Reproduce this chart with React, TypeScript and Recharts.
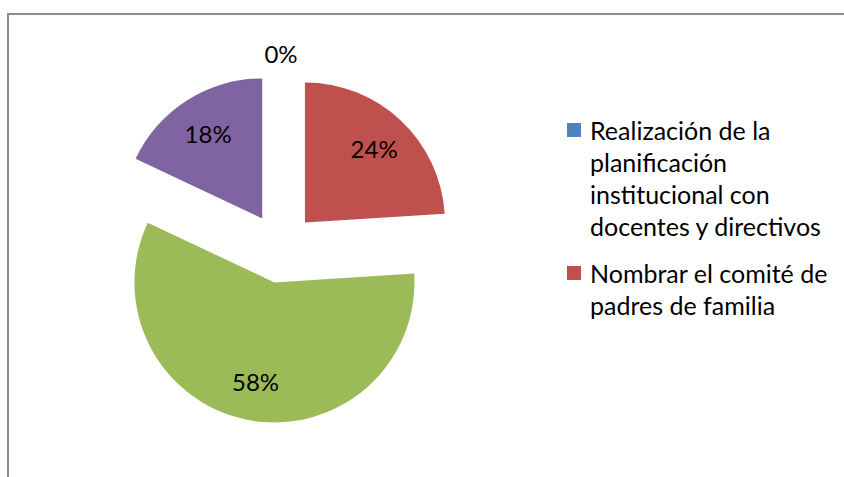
import { PieChart, Pie, Cell, Legend } from "recharts";

// categorías y porcentajes
const categories = [
  "Realización de la planificación institucional con docentes y directivos",
  "Nombrar el comité de padres de familia",
  "Actividad 3",
  "Actividad 4",
];
const values = [0, 24, 58, 18];
const COLORS = ["#4F81BD", "#C0504D", "#9BBB59", "#8064A2"];
const LEGEND_VISIBLE = 2; // el resto queda cortado, como en el original

const data = categories.map((name, i) => ({ name, value: values[i] }));

const FONT = "Lato, 'Open Sans', sans-serif";
const R = 140;
const EXPLODE = 35;
const RAD = Math.PI / 180;

// desplazamiento radial de cada porción (pastel separado)
const total = values.reduce((a, b) => a + b, 0);
let acc = 0;
const offsets = values.map((v) => {
  const mid = ((acc + v / 2) / total) * 360; // grados desde las 12, sentido horario
  acc += v;
  return { dx: EXPLODE * Math.sin(mid * RAD), dy: -EXPLODE * Math.cos(mid * RAD) };
});

const renderLabel = (props: any) => {
  const { cx, cy, midAngle, value } = props;
  const dist = value === 0 ? EXPLODE + R + 20 : EXPLODE + 101;
  const x = cx + dist * Math.cos(-midAngle * RAD);
  const y = cy + dist * Math.sin(-midAngle * RAD);
  return (
    <text
      x={x}
      y={y}
      fill="#000"
      textAnchor="middle"
      dominantBaseline="central"
      fontSize={24}
      fontFamily={FONT}
    >
      {`${Math.round((value / total) * 100)}%`}
    </text>
  );
};

const LegendContent = () => {
  const items = categories.slice(0, LEGEND_VISIBLE);
  return (
    <div style={{ fontFamily: FONT, fontSize: 25, lineHeight: "32px", color: "#000" }}>
      {items.map((name, i) => (
        <div key={i} style={{ display: "flex", marginBottom: 15 }}>
          <div
            style={{
              width: 14,
              height: 14,
              background: COLORS[i],
              marginTop: 9,
              marginRight: 9,
              flexShrink: 0,
            }}
          />
          <div style={{ width: 250 }}>{name}</div>
        </div>
      ))}
    </div>
  );
};

export default function App() {
  return (
    <div
      style={{
        position: "absolute",
        left: 0,
        top: 0,
        width: 844,
        height: 477,
        overflow: "hidden",
        background: "#fff",
      }}
    >
      <div
        style={{
          position: "absolute",
          left: 7,
          top: 13,
          width: 900,
          height: 520,
          border: "2px solid #8a8a8a",
        }}
      />
      <div style={{ position: "absolute", left: 0, top: 0 }}>
        <PieChart width={844} height={477} margin={{ top: 0, right: 0, bottom: 0, left: 0 }}>
          <Pie
            data={data}
            dataKey="value"
            nameKey="name"
            cx={281}
            cy={248}
            outerRadius={R}
            startAngle={90}
            endAngle={-270}
            stroke="none"
            label={renderLabel}
            labelLine={false}
            isAnimationActive={false}
          >
            {data.map((_, i) => (
              <Cell
                key={`cell-${i}`}
                fill={COLORS[i]}
                style={{ transform: `translate(${offsets[i].dx}px, ${offsets[i].dy}px)` }}
              />
            ))}
          </Pie>
          <Legend
            content={<LegendContent />}
            wrapperStyle={{ position: "absolute", left: 567, top: 114, width: 280 }}
          />
        </PieChart>
      </div>
    </div>
  );
}
